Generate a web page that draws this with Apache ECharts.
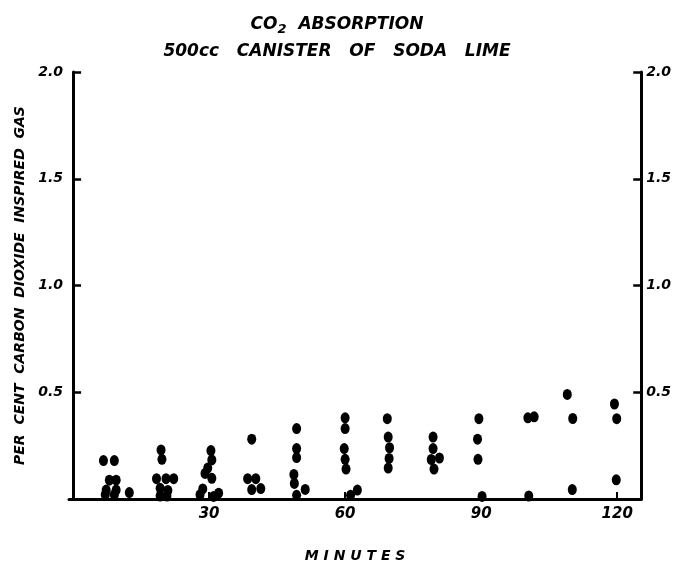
<!DOCTYPE html>
<html>
<head>
<meta charset="utf-8">
<script src="https://cdn.jsdelivr.net/npm/echarts@6/dist/echarts.min.js"></script>
<style>
  html, body { margin: 0; padding: 0; background: #fff; }
  #chart { width: 674px; height: 568px; }
</style>
</head>
<body>
<div id="chart"></div>
<script>
// minutes of each reading, and the per cent CO2 in inspired gas
const minutes = [
  6.7, 9.1, 8.0, 9.5, 7.3, 7.1, 9.5, 9.1, 12.4,
  19.4, 19.6, 18.4, 20.5, 22.2, 19.2, 20.9, 19.2, 20.7,
  30.4, 30.6, 29.7, 29.1, 30.6, 28.6, 28.0, 31.0, 32.1,
  39.4, 38.5, 40.3, 39.4, 41.4,
  49.3, 49.3, 49.3, 48.7, 48.8, 51.2, 49.3,
  60.0, 60.0, 59.8, 60.0, 60.2, 62.7, 61.2,
  69.3, 69.5, 69.8, 69.7, 69.5,
  79.4, 79.4, 79.0, 80.8, 79.6,
  89.5, 89.2, 89.3, 90.2,
  100.3, 101.7, 100.5,
  109.0, 110.2, 110.1,
  119.4, 119.9, 119.8
];
const percentCO2 = [
  0.18, 0.18, 0.088, 0.088, 0.042, 0.02, 0.042, 0.02, 0.03,
  0.23, 0.186, 0.095, 0.095, 0.095, 0.05, 0.04, 0.014, 0.014,
  0.227, 0.183, 0.145, 0.12, 0.097, 0.047, 0.02, 0.012, 0.027,
  0.28, 0.095, 0.095, 0.044, 0.049,
  0.33, 0.236, 0.194, 0.115, 0.073, 0.045, 0.017,
  0.38, 0.33, 0.236, 0.186, 0.14, 0.042, 0.017,
  0.376, 0.29, 0.24, 0.19, 0.145,
  0.29, 0.236, 0.185, 0.192, 0.14,
  0.376, 0.28, 0.186, 0.012,
  0.38, 0.385, 0.014,
  0.49, 0.377, 0.044,
  0.445, 0.376, 0.09
];
const xTicks = [30, 60, 90, 120];
const yTicks = [0.5, 1.0, 1.5, 2.0];

const FONT = "DejaVu Sans";
const ink = "#000";

const points = minutes.map((m, i) => [m, percentCO2[i]]);

function yAxisFor(side) {
  return {
    type: "value", position: side, min: 0, max: 2, interval: 0.5,
    axisLine: { show: true, lineStyle: { color: ink, width: 3 } },
    axisTick: { show: true, inside: true, length: 8, customValues: yTicks, lineStyle: { color: ink, width: 2.5 } },
    axisLabel: {
      customValues: yTicks, margin: side === "left" ? 6 : 5,
      formatter: v => v.toFixed(1),
      color: ink, fontFamily: FONT, fontStyle: "italic", fontWeight: "bold", fontSize: 14
    },
    splitLine: { show: false }
  };
}

const chart = echarts.init(document.getElementById("chart"), null, { renderer: "canvas" });
chart.setOption({
  backgroundColor: "#fff",
  animation: false,
  title: {
    left: "center", top: 9, itemGap: 10,
    text: "{t|CO}{s|2}{t|  ABSORPTION}",
    subtext: "500cc   CANISTER   OF   SODA   LIME",
    textStyle: {
      rich: {
        t: { fontFamily: FONT, fontStyle: "italic", fontWeight: "bold", fontSize: 17, color: ink },
        s: { fontFamily: FONT, fontStyle: "italic", fontWeight: "bold", fontSize: 13, color: ink, verticalAlign: "bottom", padding: [9, 0, 0, 0] }
      }
    },
    subtextStyle: { fontFamily: FONT, fontStyle: "italic", fontWeight: "bold", fontSize: 17, color: ink }
  },
  grid: { left: 69, right: 31, top: 72, bottom: 56 },
  xAxis: {
    type: "value", min: -0.9, max: 125.3,
    name: "M I N U T E S", nameLocation: "middle", nameGap: 50,
    nameTextStyle: { fontFamily: FONT, fontStyle: "italic", fontWeight: "bold", fontSize: 14, color: ink },
    axisLine: { show: true, onZero: false, lineStyle: { color: ink, width: 3 } },
    axisTick: { show: true, inside: true, length: 7, customValues: xTicks, lineStyle: { color: ink, width: 2 } },
    axisLabel: { customValues: xTicks, margin: 8, color: ink, fontFamily: FONT, fontStyle: "italic", fontWeight: "bold", fontSize: 15 },
    splitLine: { show: false }
  },
  yAxis: [
    Object.assign(yAxisFor("left"), {
      name: "PER  CENT  CARBON  DIOXIDE  INSPIRED  GAS", nameLocation: "middle", nameGap: 42, nameRotate: 90,
      nameTextStyle: { fontFamily: FONT, fontStyle: "italic", fontWeight: "bold", fontSize: 14, color: ink }
    }),
    yAxisFor("right")
  ],
  series: [{
    type: "scatter",
    data: points,
    symbol: "circle",
    symbolSize: [9, 11],
    itemStyle: { color: ink, opacity: 1 },
    z: 1
  }]
});
</script>
</body>
</html>
